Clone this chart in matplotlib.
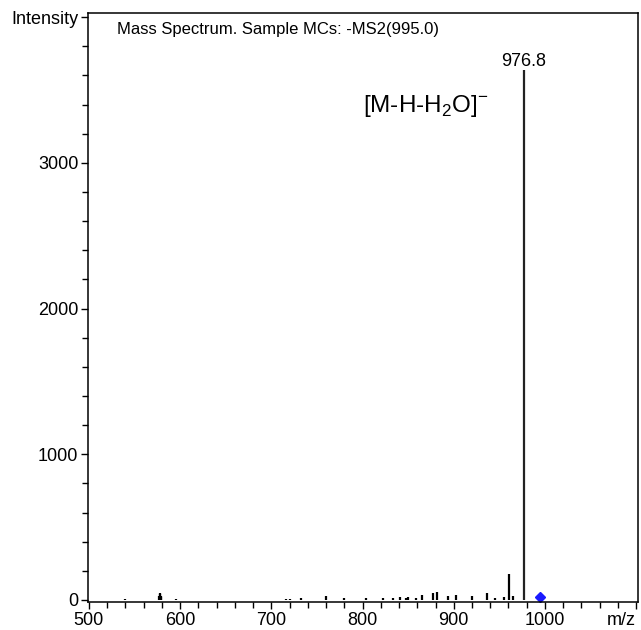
import matplotlib
matplotlib.use('Agg')
import matplotlib.pyplot as plt
from matplotlib.ticker import MultipleLocator

plt.rcParams['font.family'] = ['Liberation Sans', 'DejaVu Sans']
plt.rcParams['mathtext.fontset'] = 'custom'
plt.rcParams['mathtext.rm'] = 'Liberation Sans'

# Data (m/z, intensity)
mz = [539.5, 576.5, 577.5, 578.0, 578.5, 579.5, 595.0, 716.0, 720.0, 732.0,
      760.0, 780.0, 804.0, 822.0, 833.0, 841.5, 848.0, 850.0, 859.0, 865.5,
      877.0, 881.8, 893.8, 902.0, 920.5, 937.0, 945.0, 955.0, 960.5, 965.0,
      976.8]
intensity = [8, 25, 45, 40, 30, 18, 10, 8, 10, 15,
             30, 12, 12, 15, 15, 18, 15, 20, 12, 35,
             45, 55, 30, 35, 30, 48, 15, 20, 178, 25,
             3640]
precursor_mz = 995.0
precursor_int = 20

x_ticks = [500, 600, 700, 800, 900, 1000, 1100]
x_labels = ['500', '600', '700', '800', '900', '1000', 'm/z']
y_ticks = [0, 1000, 2000, 3000, 4000]
y_labels = ['0', '1000', '2000', '3000', 'Intensity']

fig = plt.figure(figsize=(6.41, 6.30), dpi=100)
ax = fig.add_axes([0.1373, 0.0444, 0.858, 0.9346])

ax.vlines(mz[:-1], 0, intensity[:-1], color='black', linewidth=1.6)
ax.vlines(mz[-1], 0, intensity[-1], color='#222222', linewidth=1.6)
ax.plot([precursor_mz], [precursor_int], marker='D', color='#1a1aff',
        markersize=5, linestyle='none', clip_on=False)

ax.set_xlim(499, 1102)
ax.set_ylim(-14, 4027)

ax.set_xticks(x_ticks)
ax.set_xticklabels(x_labels)
ax.set_yticks(y_ticks)
ax.set_yticklabels(y_labels)
ax.xaxis.set_minor_locator(MultipleLocator(20))
ax.yaxis.set_minor_locator(MultipleLocator(200))
ax.tick_params(which='major', length=5, width=1, labelsize=13, direction='out', pad=2)
ax.tick_params(which='minor', length=4, width=1, direction='out')
for s in ax.spines.values():
    s.set_linewidth(1.1)

# last x label "m/z" sits flush with the right edge
mz_lab = ax.get_xticklabels()[-1]
mz_lab.set_horizontalalignment('right')
mz_lab.set_x(1101)

ax.text(0.053, 0.985, 'Mass Spectrum. Sample MCs: -MS2(995.0)', transform=ax.transAxes,
        ha='left', va='top', fontsize=12)
ax.annotate('976.8', (mz[-1], intensity[-1]), textcoords='offset points',
            xytext=(0, 0), ha='center', va='bottom', fontsize=13)
ax.text(869, 3390, r'[M-H-H$_2$O]$^{-}$', ha='center', va='center', fontsize=17.5)

fig.savefig('out.png', dpi=100)
